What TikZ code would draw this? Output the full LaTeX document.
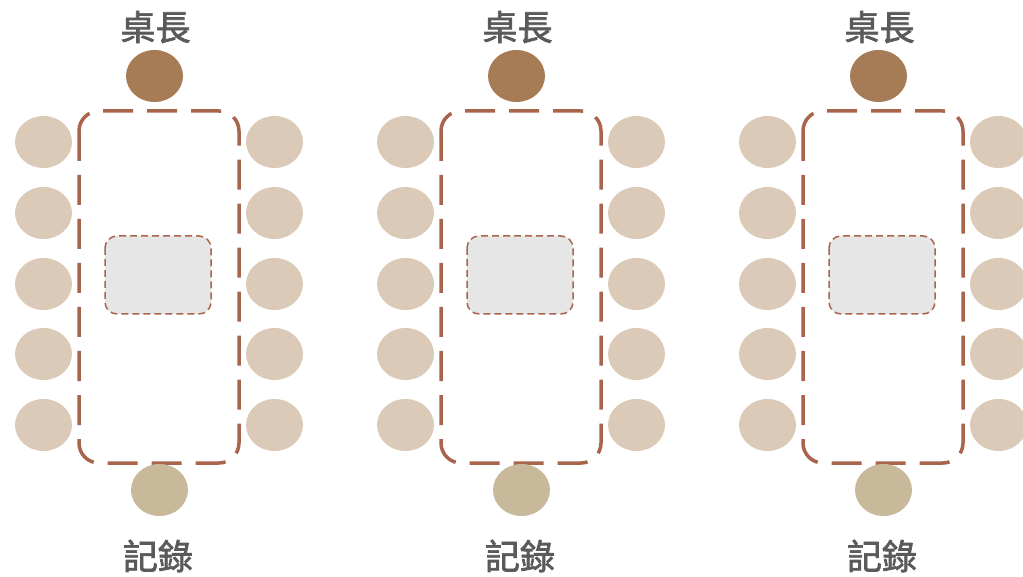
\documentclass[tikz,border=0pt]{standalone}
\usepackage{fontspec}
\usetikzlibrary{shapes.geometric}
\newfontfamily\cjk{Noto Sans CJK TC}[FakeBold=2]
\definecolor{headc}{HTML}{A57C55}
\definecolor{recc}{HTML}{C9B99B}
\definecolor{seatc}{HTML}{DCCAB8}
\definecolor{tablec}{HTML}{A8654C}
\definecolor{innerc}{HTML}{E6E6E6}
\definecolor{textc}{HTML}{5A5A5A}
\begin{document}
\begin{tikzpicture}[x=1pt,y=-1pt,
  seat/.style={ellipse, fill=seatc, minimum width=57pt, minimum height=52pt, inner sep=0pt},
  head/.style={seat, fill=headc},
  rec/.style={seat, fill=recc},
  tablebox/.style={draw=tablec, line width=3.5pt, dash pattern=on 30pt off 14pt, rounded corners=20pt},
  innerbox/.style={draw=tablec, fill=innerc, line width=1.5pt, dash pattern=on 7pt off 4pt, rounded corners=12pt},
  lbl/.style={font=\cjk\fontsize{35}{40}\selectfont, text=textc, inner sep=0pt}
]
\useasboundingbox (0,0) rectangle (1023,577);
\foreach \g/\dx in {a/0,b/362,c/724}{
  \begin{scope}[xshift=\dx pt]
    \draw[tablebox] (79,111) rectangle (239,463);
    \draw[innerbox] (105,236) rectangle (211,314);
    \node[head] (\g-head) at (154.5,76) {};
    \node[rec] (\g-rec) at (159.5,490) {};
    \foreach \i/\y in {1/142,2/213,3/284,4/354,5/425}{
      \node[seat] (\g-l\i) at (43.5,\y) {};
      \node[seat] (\g-r\i) at (274.5,\y) {};
    }
    \node[lbl] (\g-t1) at (155.5,27) {桌長};
    \node[lbl] (\g-t2) at (158,556) {記錄};
  \end{scope}
}
\end{tikzpicture}
\end{document}
